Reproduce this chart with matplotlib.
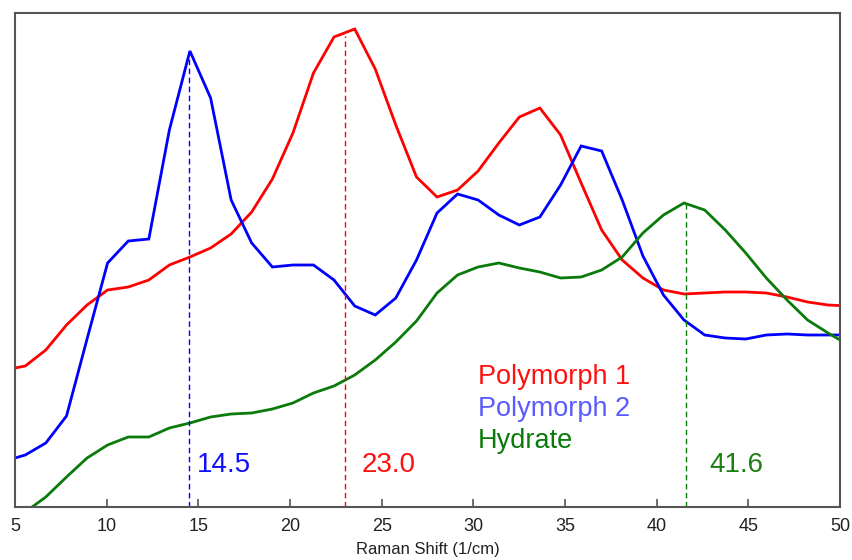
import matplotlib
matplotlib.use("Agg")
import matplotlib.pyplot as plt

plt.rcParams['font.family'] = ['Liberation Sans', 'DejaVu Sans']

raman_shift = [4.44, 5.56, 6.68, 7.81, 8.93, 10.05, 11.18, 12.30, 13.42, 14.54,
               15.67, 16.79, 17.91, 19.04, 20.16, 21.28, 22.40, 23.53, 24.65, 25.77,
               26.90, 28.02, 29.14, 30.26, 31.39, 32.51, 33.63, 34.76, 35.88, 37.00,
               38.12, 39.25, 40.37, 41.49, 42.62, 43.74, 44.86, 45.98, 47.11, 48.23,
               49.35, 50.47]

polymorph1 = [137, 141, 157, 182, 202, 217, 220, 227, 242, 250,
              259, 273, 295, 328, 374, 434, 470, 478, 438, 382,
              330, 310, 317, 336, 364, 390, 399, 372, 324, 277,
              247, 229, 217, 213, 214, 215, 215, 214, 210, 205,
              202, 201]

polymorph2 = [46, 52, 64, 91, 168, 244, 266, 268, 377, 456,
              409, 307, 264, 240, 242, 242, 227, 201, 192, 209,
              247, 294, 313, 307, 292, 282, 290, 322, 361, 356,
              307, 251, 212, 187, 172, 169, 168, 172, 173, 172,
              172, 172]

hydrate = [-18, -5, 10, 30, 49, 62, 70, 70, 79, 84,
           90, 93, 94, 98, 104, 114, 121, 132, 147, 165,
           186, 214, 232, 240, 244, 239, 235, 229, 230, 237,
           250, 274, 292, 304, 297, 277, 254, 229, 207, 187,
           174, 162]

peak_pos = [14.5, 23.0, 41.6]
peak_top = [456, 471, 304]
peak_labels = ["14.5", "23.0", "41.6"]
peak_label_x = [14.93, 23.93, 42.86]
series_names = ["Polymorph 1", "Polymorph 2", "Hydrate"]

line_colors = ['#ff0000', '#0000ff', '#0a7a0a']
text_colors = ['#ff1010', '#5a5aff', '#0a7a0a']
peak_colors = ['#1010ff', '#ff1010', '#1a8010']

fig = plt.figure(figsize=(8.52, 5.60), dpi=100)
ax = fig.add_axes([15/852, 53/560, 825/852, 494/560])

for ys, c in zip([polymorph1, polymorph2, hydrate], line_colors):
    ax.plot(raman_shift, ys, color=c, lw=2.0, solid_joinstyle='miter')

dash_colors = ['#0000ff', '#ff0000', '#0a7a0a']
for xp, yt, c in zip(peak_pos, peak_top, dash_colors):
    ax.plot([xp, xp], [0, yt], color=c, lw=1.0, ls=(0, (4, 2.5)))

for xl, lab, c in zip(peak_label_x, peak_labels, peak_colors):
    ax.text(xl, 42, lab, color=c, fontsize=20, ha='left', va='center')

for i, (name, c) in enumerate(zip(series_names, text_colors)):
    ax.text(30.26, 130 - i * 32, name, color=c, fontsize=19.5, ha='left', va='center')

ax.set_xlim(5, 50)
ax.set_ylim(0, 494)
ax.set_xticks([5, 10, 15, 20, 25, 30, 35, 40, 45, 50])
ax.set_yticks([])
ax.tick_params(axis='x', direction='in', length=6, width=1.2, color='#555555',
               labelsize=13, pad=8, labelcolor='#222222')
for sp in ax.spines.values():
    sp.set_color('#555555')
    sp.set_linewidth(1.5)
ax.set_xlabel("Raman Shift (1/cm)", fontsize=12, color='#222222', labelpad=5)

fig.savefig("out.png", dpi=100)
